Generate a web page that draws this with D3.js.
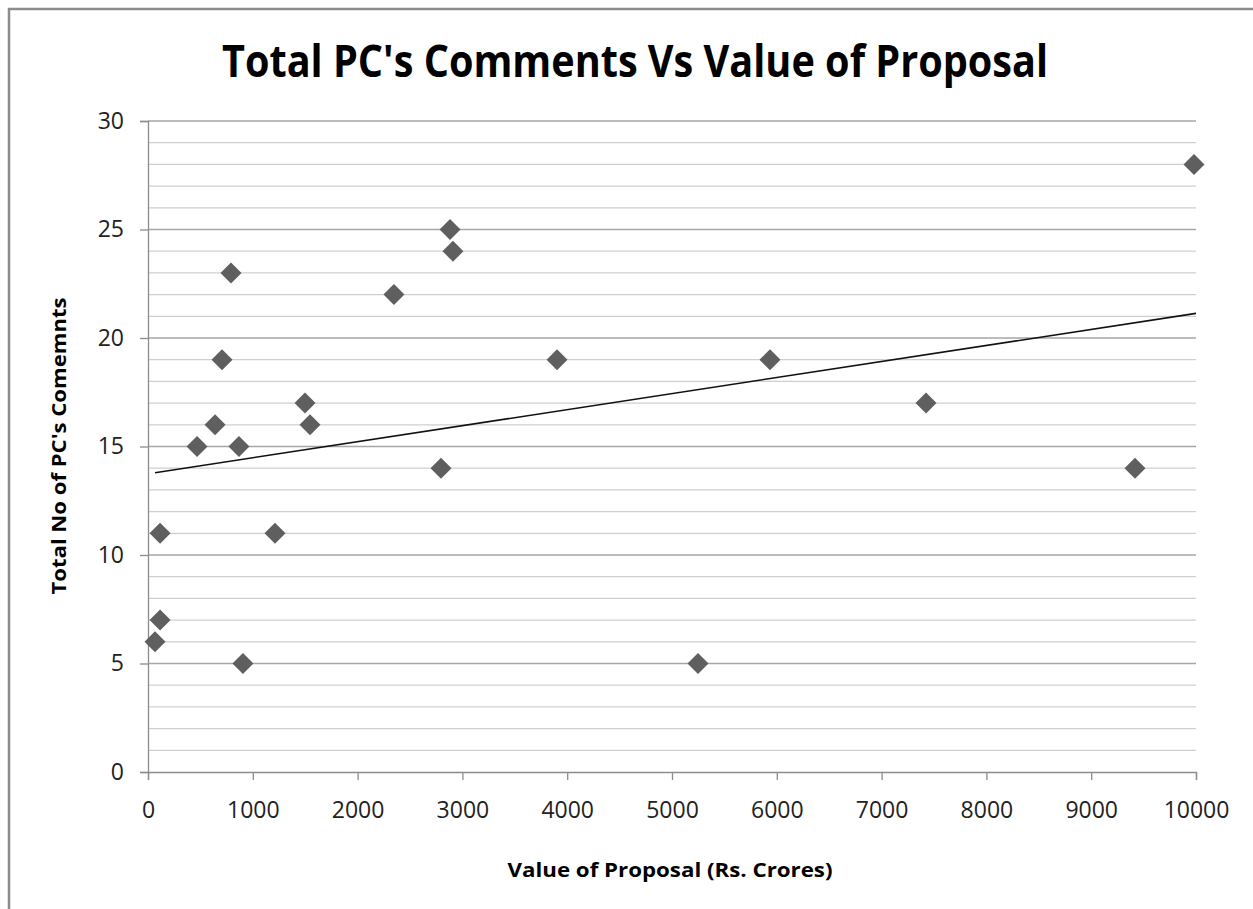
<!DOCTYPE html>
<html>
<head>
<meta charset="utf-8">
<script src="https://cdn.jsdelivr.net/npm/d3@7/dist/d3.min.js"></script>
<style>
  html, body { margin: 0; padding: 0; background: #fff; }
  svg { display: block; }
</style>
</head>
<body>
<svg id="chart" width="1253" height="909"></svg>
<script>
// Proposal values (Rs. Crores) and the number of PC comments for each proposal
const proposalValues = [67, 115, 115, 468, 640, 706, 792, 868, 906, 1212, 1498, 1546,
                        2347, 2796, 2882, 2910, 3903, 5248, 5935, 7424, 9418, 9981];
const commentCounts  = [6, 7, 11, 15, 16, 19, 23, 15, 5, 11, 17, 16,
                        22, 14, 25, 24, 19, 5, 19, 17, 14, 28];

const xTicks = [0, 1000, 2000, 3000, 4000, 5000, 6000, 7000, 8000, 9000, 10000];
const yTicks = [0, 5, 10, 15, 20, 25, 30];
const yMinorTicks = d3.range(0, 31, 1);

const titleText = "Total PC's Comments Vs Value of Proposal";
const xTitleText = "Value of Proposal (Rs. Crores)";
const yTitleText = "Total No of PC's Comemnts";

const svg = d3.select("#chart");
const font = "'Open Sans', 'DejaVu Sans', sans-serif";

// outer chart frame
svg.append("rect")
  .attr("x", 9).attr("y", 9)
  .attr("width", 1260).attr("height", 920)
  .attr("fill", "#fff")
  .attr("stroke", "#8c8c8c").attr("stroke-width", 2.5);

const plot = { left: 148, right: 1196, top: 121, bottom: 772 };

const x = d3.scaleLinear().domain([0, 10000]).range([plot.left, plot.right]);
const y = d3.scaleLinear().domain([0, 30]).range([plot.bottom, plot.top]);

// horizontal gridlines: every unit light, every five slightly darker
svg.append("g").selectAll("line")
  .data(yMinorTicks.filter(v => v > 0))
  .join("line")
  .attr("x1", plot.left).attr("x2", plot.right)
  .attr("y1", d => y(d)).attr("y2", d => y(d))
  .attr("stroke", d => d % 5 === 0 ? "#a6a6a6" : "#cfcfcf")
  .attr("stroke-width", 1.3);

// y axis
const yAxis = svg.append("g")
  .attr("transform", `translate(${plot.left},0)`)
  .call(d3.axisLeft(y).tickValues(yTicks).tickSize(8).tickPadding(16).tickFormat(d3.format("d")));
yAxis.select(".domain").attr("stroke", "#8c8c8c").attr("stroke-width", 1.3);
yAxis.selectAll(".tick line").attr("stroke", "#8c8c8c").attr("stroke-width", 1.3);
yAxis.selectAll(".tick text")
  .attr("font-family", font).attr("font-size", 23).attr("fill", "#222");

// x axis
const xAxis = svg.append("g")
  .attr("transform", `translate(0,${plot.bottom})`)
  .call(d3.axisBottom(x).tickValues(xTicks).tickSize(8).tickPadding(22).tickFormat(d3.format("d")));
xAxis.select(".domain").attr("stroke", "#8c8c8c").attr("stroke-width", 1.3);
xAxis.selectAll(".tick line").attr("stroke", "#8c8c8c").attr("stroke-width", 1.3);
xAxis.selectAll(".tick text")
  .attr("font-family", font).attr("font-size", 23).attr("fill", "#222");

// points
const points = proposalValues.map((v, i) => ({ v, c: commentCounts[i] }));
const diamond = d3.symbol().type(d3.symbolSquare).size(220);
svg.append("g").selectAll("path")
  .data(points)
  .join("path")
  .attr("d", diamond)
  .attr("transform", d => `translate(${x(d.v)},${y(d.c)}) rotate(45)`)
  .attr("fill", "#5f5f5f");

// least-squares linear trendline over the data range
const mx = d3.mean(points, d => d.v);
const my = d3.mean(points, d => d.c);
const slope = d3.sum(points, d => (d.v - mx) * (d.c - my)) / d3.sum(points, d => (d.v - mx) ** 2);
const intercept = my - slope * mx;
const [xmin, xmax] = d3.extent(points, d => d.v);
const trend = [xmin, Math.max(xmax, 10000)].map(v => [v, intercept + slope * v]);
svg.append("path")
  .datum(trend)
  .attr("d", d3.line().x(d => x(d[0])).y(d => y(d[1])))
  .attr("fill", "none").attr("stroke", "#111").attr("stroke-width", 1.6);

// fit text horizontally to a target width
function fit(sel, w) {
  sel.attr("textLength", w).attr("lengthAdjust", "spacingAndGlyphs");
}

// title
svg.append("text")
  .attr("x", 635).attr("y", 77)
  .attr("text-anchor", "middle")
  .attr("font-family", font).attr("font-weight", "bold").attr("font-size", 44)
  .attr("fill", "#000")
  .text(titleText)
  .call(fit, 826);

// x axis title
svg.append("text")
  .attr("x", 670).attr("y", 877)
  .attr("text-anchor", "middle")
  .attr("font-family", font).attr("font-weight", "bold").attr("font-size", 20)
  .attr("fill", "#000")
  .text(xTitleText)
  .call(fit, 325);

// y axis title
svg.append("text")
  .attr("transform", "translate(66,446) rotate(-90)")
  .attr("text-anchor", "middle")
  .attr("font-family", font).attr("font-weight", "bold").attr("font-size", 20)
  .attr("fill", "#000")
  .text(yTitleText)
  .call(fit, 297);
</script>
</body>
</html>
